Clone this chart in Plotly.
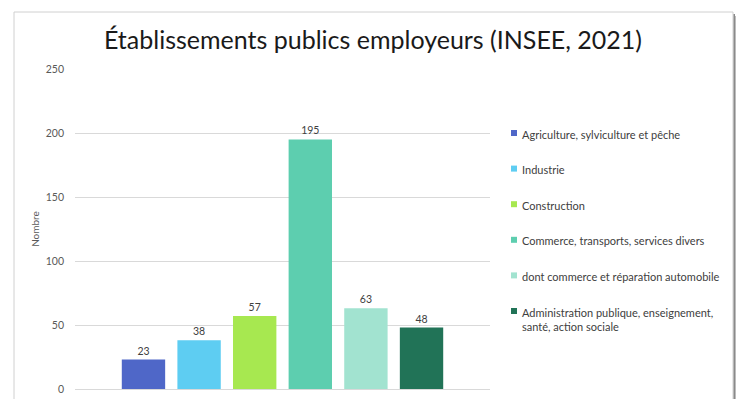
import plotly.graph_objects as go

# Data
categories = [
    "Agriculture, sylviculture et pêche",
    "Industrie",
    "Construction",
    "Commerce, transports, services divers",
    "dont commerce et réparation automobile",
    "Administration publique, enseignement,<br>santé, action sociale",
]
values = [23, 38, 57, 195, 63, 48]
colors = ["#4F67C8", "#5ECDF2", "#A7E850", "#5DCEAF", "#A2E3D0", "#217357"]
y_ticks = [0, 50, 100, 150, 200, 250]

FONT = "Lato, Open Sans, sans-serif"
TXT = "#404040"

W, H = 736, 399
L, R, T, B = 75, 246, 69, 10
PW, PH = W - L - R, H - T - B


def px_x(x):
    return (x - L) / PW


def px_y(y):
    return (H - B - y) / PH


fig = go.Figure()
for name, v, c in zip(categories, values, colors):
    fig.add_trace(go.Bar(
        x=["Établissements"], y=[v], name=name,
        marker=dict(color=c, line=dict(width=0)),
        text=[str(v)], textposition="outside",
        textfont=dict(size=10.5, color=TXT, family=FONT),
        cliponaxis=False, showlegend=False,
    ))

shapes = [
    # chart frame
    dict(type="rect", xref="paper", yref="paper",
         x0=px_x(14), x1=px_x(733), y0=px_y(12), y1=px_y(420),
         line=dict(color="#D0D0D0", width=1), fillcolor="rgba(0,0,0,0)", layer="below"),
    # right-edge shadow
    dict(type="rect", xref="paper", yref="paper",
         x0=px_x(733.5), x1=px_x(735), y0=px_y(14), y1=px_y(420),
         line=dict(width=0), fillcolor="#8A8A8A", layer="below"),
    dict(type="rect", xref="paper", yref="paper",
         x0=px_x(735), x1=px_x(736), y0=px_y(16), y1=px_y(420),
         line=dict(width=0), fillcolor="#BDBDBD", layer="below"),
]

# Legend drawn as small swatches with labels
annotations = []
leg_y0, leg_step = 133, 35.6
for i, (name, c) in enumerate(zip(categories, colors)):
    yc = leg_y0 + i * leg_step
    shapes.append(dict(type="rect", xref="paper", yref="paper",
                       x0=px_x(511), x1=px_x(517), y0=px_y(yc - 3), y1=px_y(yc + 3),
                       line=dict(width=0), fillcolor=c))
    annotations.append(dict(text=name, xref="paper", yref="paper",
                            x=px_x(520), y=px_y(yc - 7.5), xanchor="left", yanchor="top",
                            align="left", showarrow=False,
                            font=dict(size=11, color=TXT, family=FONT)))

fig.update_layout(
    width=W, height=H,
    margin=dict(l=L, r=R, t=T, b=B, pad=0, autoexpand=False),
    paper_bgcolor="white", plot_bgcolor="white",
    barmode="group", bargap=0.196, bargroupgap=0.22,
    font=dict(family=FONT, color=TXT),
    showlegend=False,
    title=dict(text="Établissements publics employeurs (INSEE, 2021)",
               x=373 / W, xref="container", xanchor="center",
               y=1 - 40 / H, yref="container", yanchor="middle",
               font=dict(size=25, color="#1A1A1A", family=FONT)),
    xaxis=dict(showticklabels=False, showgrid=False, zeroline=False,
               showline=False, ticks="", automargin=False),
    yaxis=dict(range=[0, 250], tickvals=y_ticks, showgrid=True,
               gridcolor="#D9D9D9", gridwidth=1, zeroline=True,
               zerolinecolor="#D9D9D9", zerolinewidth=1, showline=False,
               tickfont=dict(size=10.5, color="#595959", family=FONT),
               ticklabelstandoff=10, automargin=False,
               title=dict(text="Nombre", standoff=4,
                          font=dict(size=10, color="#595959", family=FONT))),
    shapes=shapes,
    annotations=annotations,
)

fig.write_html("out.html")
